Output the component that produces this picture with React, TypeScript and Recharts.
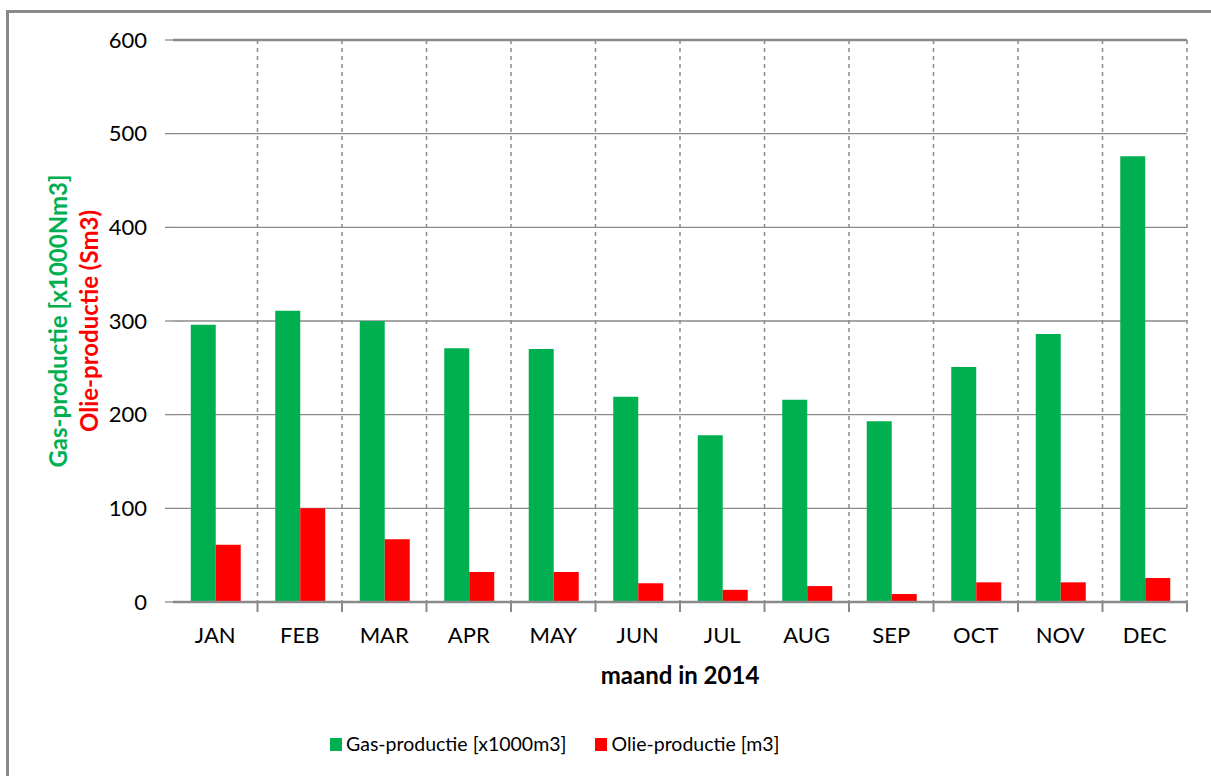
import { BarChart, Bar, XAxis, YAxis, CartesianGrid, ReferenceLine } from 'recharts';

// maandelijkse productie 2014
const months = ['JAN', 'FEB', 'MAR', 'APR', 'MAY', 'JUN', 'JUL', 'AUG', 'SEP', 'OCT', 'NOV', 'DEC'];
const gasValues = [296, 311, 300, 271, 270, 219, 178, 216, 193, 251, 286, 476];
const oilValues = [61, 100, 67, 32, 32, 20, 13, 17, 8.5, 21, 21, 25.6];
const yTicks = [0, 100, 200, 300, 400, 500, 600];
const seriesNames = ['Gas-productie [x1000m3]', 'Olie-productie [m3]'];

const data = months.map((m, i) => ({ month: m, gas: gasValues[i], oil: oilValues[i] }));

const W = 1211;
const H = 776;
const xAxisHeight = 30;
const margin = { top: 40, right: 24, bottom: 174 - xAxisHeight, left: 0 };
const yAxisWidth = 173;
const bandWidth = (W - yAxisWidth - margin.right) / months.length;

const GRAY = '#8a8a8a';
const GREEN = '#00b050';
const RED = '#ff0000';
const FONT = 'Lato, "Open Sans", sans-serif';

const MonthTick = (props: any) => {
  const { x, y, payload } = props;
  return (
    <g>
      <line x1={x + bandWidth / 2} y1={y} x2={x + bandWidth / 2} y2={y + 10} stroke={GRAY} strokeWidth={2} />
      <text x={x} y={y + 41} textAnchor="middle" fontSize={22} fontFamily={FONT} fill="#000">
        {payload.value}
      </text>
    </g>
  );
};

const YLabel = (props: any) => {
  const cy = props.viewBox ? props.viewBox.y + props.viewBox.height / 2 : 321;
  return (
    <g fontFamily={FONT} fontWeight="bold" fontSize={24}>
      <text x={57} y={cy} transform={`rotate(-90, 57, ${cy})`} textAnchor="middle" dominantBaseline="central" fill={GREEN}>
        Gas-productie  [x1000Nm3]
      </text>
      <text x={88} y={cy} transform={`rotate(-90, 88, ${cy})`} textAnchor="middle" dominantBaseline="central" fill={RED}>
        Olie-productie (Sm3)
      </text>
    </g>
  );
};

export default function App() {
  const colors = [GREEN, RED];
  return (
    <div style={{ position: 'absolute', left: 0, top: 0, width: W, height: H, overflow: 'hidden', background: '#fff' }}>
      <div
        style={{
          position: 'absolute',
          left: 6,
          top: 10,
          width: 1300,
          height: 900,
          border: `3px solid ${GRAY}`,
          boxSizing: 'border-box',
        }}
      />
      <div style={{ position: 'absolute', left: 0, top: 0 }}>
        <BarChart width={W} height={H} data={data} margin={margin} barCategoryGap="21%" barGap={0}>
          <CartesianGrid vertical={false} stroke={GRAY} strokeWidth={1.3} />
          <CartesianGrid
            horizontal={false}
            stroke={GRAY}
            strokeWidth={1.5}
            strokeDasharray="4 4"
            verticalCoordinatesGenerator={({ offset }: any) =>
              months.map((_, i) => offset.left + ((i + 1) * offset.width) / months.length)
            }
          />
          <XAxis
            dataKey="month"
            height={xAxisHeight}
            axisLine={{ stroke: GRAY, strokeWidth: 2.5 }}
            tickLine={false}
            tickSize={0}
            tickMargin={0}
            interval={0}
            tick={<MonthTick />}
            label={{
              value: 'maand in 2014',
              position: 'insideBottom',
              offset: 0,
              dy: 52,
              fontFamily: FONT,
              fontWeight: 'bold',
              fontSize: 24,
              fill: '#000',
            }}
          />
          <YAxis
            width={yAxisWidth}
            domain={[0, 600]}
            ticks={yTicks}
            interval={0}
            axisLine={false}
            tickLine={{ stroke: GRAY, strokeWidth: 1.3 }}
            tickSize={8}
            tickMargin={18}
            tick={{ fontFamily: FONT, fontSize: 22, fill: '#000' }}
            label={<YLabel />}
          />
          <ReferenceLine y={600} stroke={GRAY} strokeWidth={2.5} />
          <Bar dataKey="gas" name={seriesNames[0]} fill={GREEN} isAnimationActive={false} />
          <Bar dataKey="oil" name={seriesNames[1]} fill={RED} isAnimationActive={false} />
        </BarChart>
      </div>
      <div
        style={{
          position: 'absolute',
          left: 330,
          top: 731,
          display: 'flex',
          alignItems: 'center',
          fontFamily: FONT,
          fontSize: 19.5,
          color: '#000',
          lineHeight: '26px',
        }}
      >
        {seriesNames.map((name, i) => (
          <div key={name} style={{ display: 'flex', alignItems: 'center', marginRight: 29 }}>
            <span style={{ display: 'inline-block', width: 12, height: 13, background: colors[i], marginRight: 4 }} />
            <span>{name}</span>
          </div>
        ))}
      </div>
    </div>
  );
}
